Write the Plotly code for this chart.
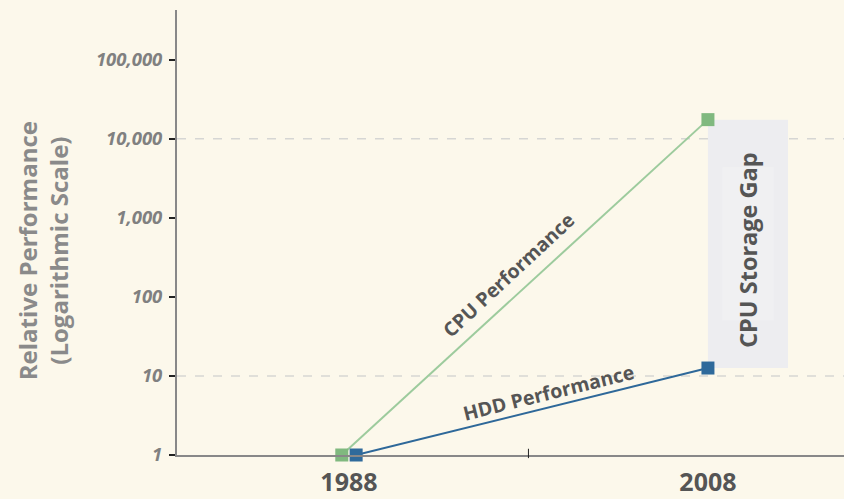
import plotly.graph_objects as go

years = ["1988", "2008"]
cpu_perf = [1, 17500]
hdd_perf = [1, 12.6]
ytick_vals = [1, 10, 100, 1000, 10000, 100000]
ytick_text = ["1", "10", "100", "1,000", "10,000", "100,000"]

xpos = [0, 1]
off = 0.02
BG = "#fcf8eb"

fig = go.Figure()
# gap rectangle (behind)
fig.add_shape(type="rect", xref="x", yref="y", x0=1.0, x1=1.223,
              y0=hdd_perf[1], y1=cpu_perf[1], fillcolor="#ededf0",
              line=dict(width=0), layer="below")
fig.add_shape(type="rect", xref="x", yref="y", x0=1.04, x1=1.183,
              y0=hdd_perf[1] * 4, y1=cpu_perf[1] / 4, fillcolor="#f0f0f2",
              line=dict(width=0), layer="below")
for v in [10, 10000]:
    fig.add_shape(type="line", xref="paper", yref="y", x0=0.0, x1=1, y0=v, y1=v,
                  line=dict(color="#d6d6d4", width=1.5, dash="dash"), layer="below")
# cross tick between categories
fig.add_shape(type="line", xref="x", yref="paper", x0=0.5, x1=0.5, y0=-0.007, y1=0.014,
              line=dict(color="#222", width=1))

fig.add_trace(go.Scatter(x=[xpos[0] - off, xpos[1]], y=cpu_perf, mode="lines+markers",
                         line=dict(color="#9dcb9d", width=2),
                         marker=dict(symbol="square", size=13, color="#80b97f"),
                         showlegend=False, cliponaxis=False, hoverinfo="skip"))
fig.add_trace(go.Scatter(x=[xpos[0] + off, xpos[1]], y=hdd_perf, mode="lines+markers",
                         line=dict(color="#2e6899", width=2),
                         marker=dict(symbol="square", size=13, color="#2f6a9b"),
                         showlegend=False, cliponaxis=False, hoverinfo="skip"))

fig.add_annotation(x=0.445, y=2.28, xref="x", yref="y", yanchor="middle", text="CPU Performance",
                   showarrow=False, textangle=-43,
                   font=dict(family="Open Sans", size=19.5, color="#555", weight="bold"))
fig.add_annotation(x=0.555, y=0.785, xref="x", yref="y", yanchor="middle", text="HDD Performance",
                   showarrow=False, textangle=-14,
                   font=dict(family="Open Sans", size=19.5, color="#555", weight="bold"))
fig.add_annotation(x=1.1115, y=2.595, xref="x", yref="y", yanchor="middle",
                   text="CPU Storage Gap",
                   showarrow=False, textangle=-90,
                   font=dict(family="Open Sans", size=23.5, color="#555", weight="bold"))
fig.add_annotation(x=-0.201, y=0.46, xref="paper", yref="paper", xanchor="center",
                   yanchor="middle",
                   text="Relative Performance<br>(Logarithmic Scale)",
                   showarrow=False, textangle=-90,
                   font=dict(family="Open Sans", size=24, color="#8a8a8a", weight="bold"))

fig.update_layout(
    width=844, height=499,
    margin=dict(l=177, r=0, t=10, b=44, autoexpand=False),
    paper_bgcolor=BG, plot_bgcolor=BG,
    xaxis=dict(range=[-0.479, 1.379], tickvals=xpos, ticktext=years, showgrid=False,
               zeroline=False, showline=True, linecolor="#888", linewidth=2, ticks="",
               automargin=False, ticklabelstandoff=4,
               tickfont=dict(family="Open Sans", size=25, color="#555", weight="bold")),
    yaxis=dict(type="log", range=[0, 5.63], tickvals=ytick_vals, ticktext=ytick_text,
               showgrid=False, zeroline=False, showline=True, linecolor="#888", linewidth=2,
               ticks="outside", ticklen=6, tickwidth=2, tickcolor="#222",
               ticklabelstandoff=3, automargin=False,
               tickfont=dict(family="Open Sans", size=18.5, color="#808080", weight="bold",
                             style="italic")),
)

fig.write_html("out.html", config={"displayModeBar": False},
               post_script="document.body.style.margin='0';"
                           "document.body.style.background='" + BG + "';")
